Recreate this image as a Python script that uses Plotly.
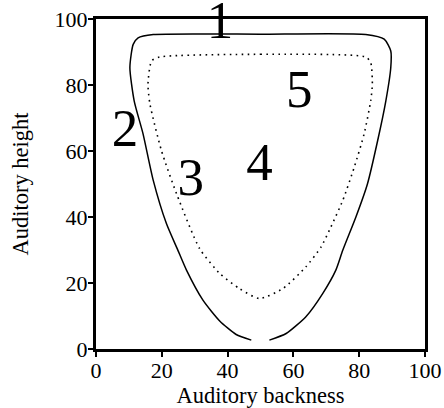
import plotly.graph_objects as go

# Outer (solid) contour, open at the bottom
outer_x = [47.2, 42.6, 37.6, 32.5, 27.5, 24.9, 21.4, 17.4, 14.3, 11.6, 10.3, 11.3, 12.8, 17.4,
           50.0, 82.0, 87.6, 89.6, 89.6, 88.1, 85.6, 82.5, 79.0, 75.0, 72.9, 68.9, 63.8, 57.8, 52.7]
outer_y = [2.7, 4.4, 8.5, 14.8, 23.9, 29.9, 38.0, 51.1, 65.2, 75.2, 85.3, 92.3, 94.3, 95.3,
           95.4, 95.3, 93.9, 90.3, 85.3, 75.2, 63.1, 50.0, 40.0, 29.9, 23.9, 16.8, 9.8, 4.7, 2.7]

# Inner (dotted) closed contour
inner_x = [19.4, 50.0, 82.0, 83.5, 84.0, 83.5, 81.5, 78.5, 75.0, 71.4, 68.4, 63.8, 56.8, 49.7,
           43.6, 37.6, 31.5, 24.5, 19.9, 16.4, 15.8, 16.9, 19.4]
inner_y = [88.5, 89.3, 88.5, 86.8, 80.3, 75.2, 65.2, 55.1, 45.0, 37.0, 30.9, 24.9, 18.3, 15.3,
           18.3, 22.9, 30.4, 47.0, 60.1, 74.2, 80.3, 87.3, 88.5]

# Region labels
label_text = ["1", "2", "3", "4", "5"]
label_x = [37.7, 8.8, 28.8, 49.7, 61.8]
label_y = [98.2, 65.4, 50.6, 55.3, 77.5]

x_ticks = [0, 20, 40, 60, 80, 100]
y_ticks = [0, 20, 40, 60, 80, 100]

font_family = "Liberation Serif, Times New Roman, serif"

fig = go.Figure()
fig.add_trace(go.Scatter(x=outer_x, y=outer_y, mode="lines",
                         line=dict(color="black", width=1.5, shape="spline", smoothing=0.6),
                         hoverinfo="skip", showlegend=False))
fig.add_trace(go.Scatter(x=inner_x, y=inner_y, mode="lines",
                         line=dict(color="black", width=1.6, dash="1.6px,4.4px",
                                   shape="spline", smoothing=0.6),
                         hoverinfo="skip", showlegend=False))
fig.add_trace(go.Scatter(x=label_x, y=label_y, mode="text", text=label_text,
                         textfont=dict(family=font_family, size=53, color="black"),
                         textposition="middle center", cliponaxis=False,
                         hoverinfo="skip", showlegend=False))

axis_common = dict(range=[0, 100], showgrid=False, zeroline=False, automargin=False,
                   showline=True, linecolor="black", linewidth=3, mirror=True,
                   ticks="outside", ticklen=5, tickwidth=2, tickcolor="black",
                   tickfont=dict(family=font_family, size=22, color="black"))

fig.update_xaxes(tickvals=x_ticks, ticklabelstandoff=-5,
                 title=dict(text="Auditory backness",
                            font=dict(family=font_family, size=22.5, color="black"), standoff=2),
                 **axis_common)
fig.update_yaxes(tickvals=y_ticks, ticklabelstandoff=-4,
                 title=dict(text="Auditory height",
                            font=dict(family=font_family, size=22.5, color="black"), standoff=20),
                 **axis_common)

fig.update_layout(width=444, height=408, margin=dict(l=96, r=19, t=19, b=59),
                  plot_bgcolor="white", paper_bgcolor="white")

fig.write_html("out.html")
